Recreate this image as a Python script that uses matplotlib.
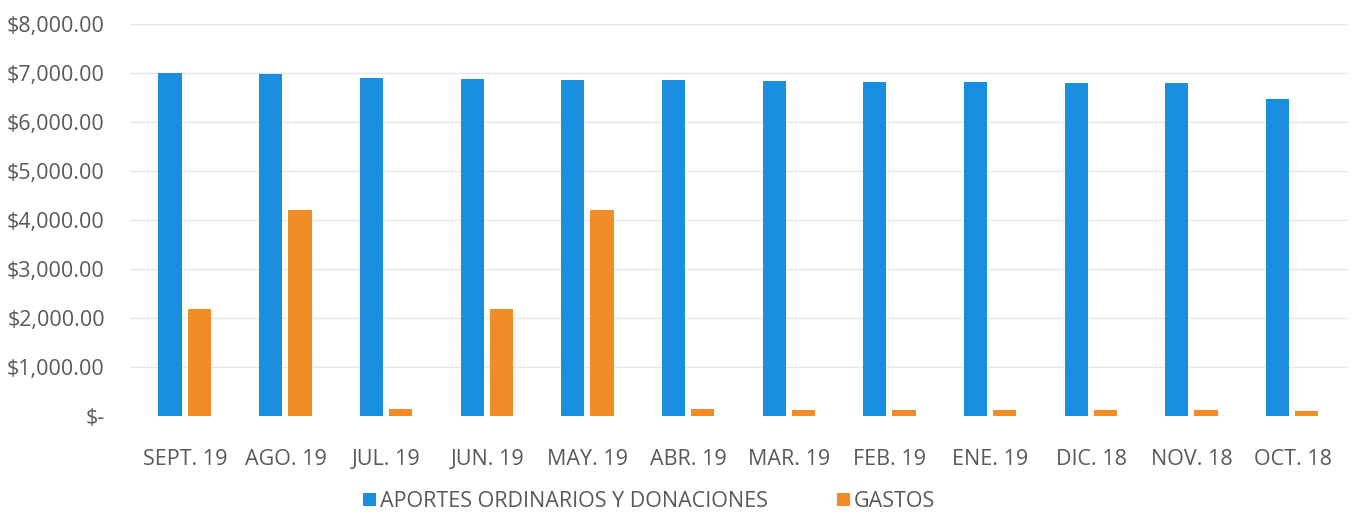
import numpy as np
import matplotlib.pyplot as plt
from matplotlib.ticker import FuncFormatter

plt.rcParams['font.family'] = ['Open Sans', 'DejaVu Sans']

meses = ["SEPT. 19", "AGO. 19", "JUL. 19", "JUN. 19", "MAY. 19", "ABR. 19",
         "MAR. 19", "FEB. 19", "ENE. 19", "DIC. 18", "NOV. 18", "OCT. 18"]
aportes = [6990, 6970, 6900, 6880, 6860, 6850, 6830, 6820, 6810, 6800, 6790, 6460]
gastos = [2180, 4210, 150, 2190, 4200, 140, 130, 125, 120, 115, 115, 110]

azul = "#1a8fe0"
naranja = "#f28c28"
gris = "#595959"

fig = plt.figure(figsize=(13.52, 5.16), dpi=100)
ax = fig.add_axes([0.096, 0.194, 0.901, 0.76])

x = np.arange(len(meses))
w = 0.23
ax.bar(x - 0.15, aportes, w, color=azul, label="APORTES ORDINARIOS Y DONACIONES", zorder=3)
ax.bar(x + 0.14, gastos, w, color=naranja, label="GASTOS", zorder=3)

ax.set_xlim(-0.55, len(meses) - 0.45)
ax.set_ylim(0, 8000)
ax.set_yticks(np.arange(0, 8001, 1000))

def fmt(v, pos):
    if v == 0:
        return "$-"
    return "${:,.2f}".format(v)

ax.yaxis.set_major_formatter(FuncFormatter(fmt))
ax.set_xticks(x)
ax.set_xticklabels(meses)
ax.tick_params(axis="both", length=0, labelsize=15.5, labelcolor=gris)
ax.tick_params(axis="x", pad=24)
ax.tick_params(axis="y", pad=18)

ax.grid(axis="y", color="#e6e6ee", linewidth=1, zorder=0)
for s in ax.spines.values():
    s.set_visible(False)

leg = fig.legend(loc="center", bbox_to_anchor=(0.48, 0.028), ncol=2, frameon=False,
                 fontsize=15.5, handlelength=0.6, handleheight=0.6, columnspacing=3.2,
                 handletextpad=0.2, borderpad=0)
for t in leg.get_texts():
    t.set_color(gris)

fig.savefig("out.png", dpi=100)
